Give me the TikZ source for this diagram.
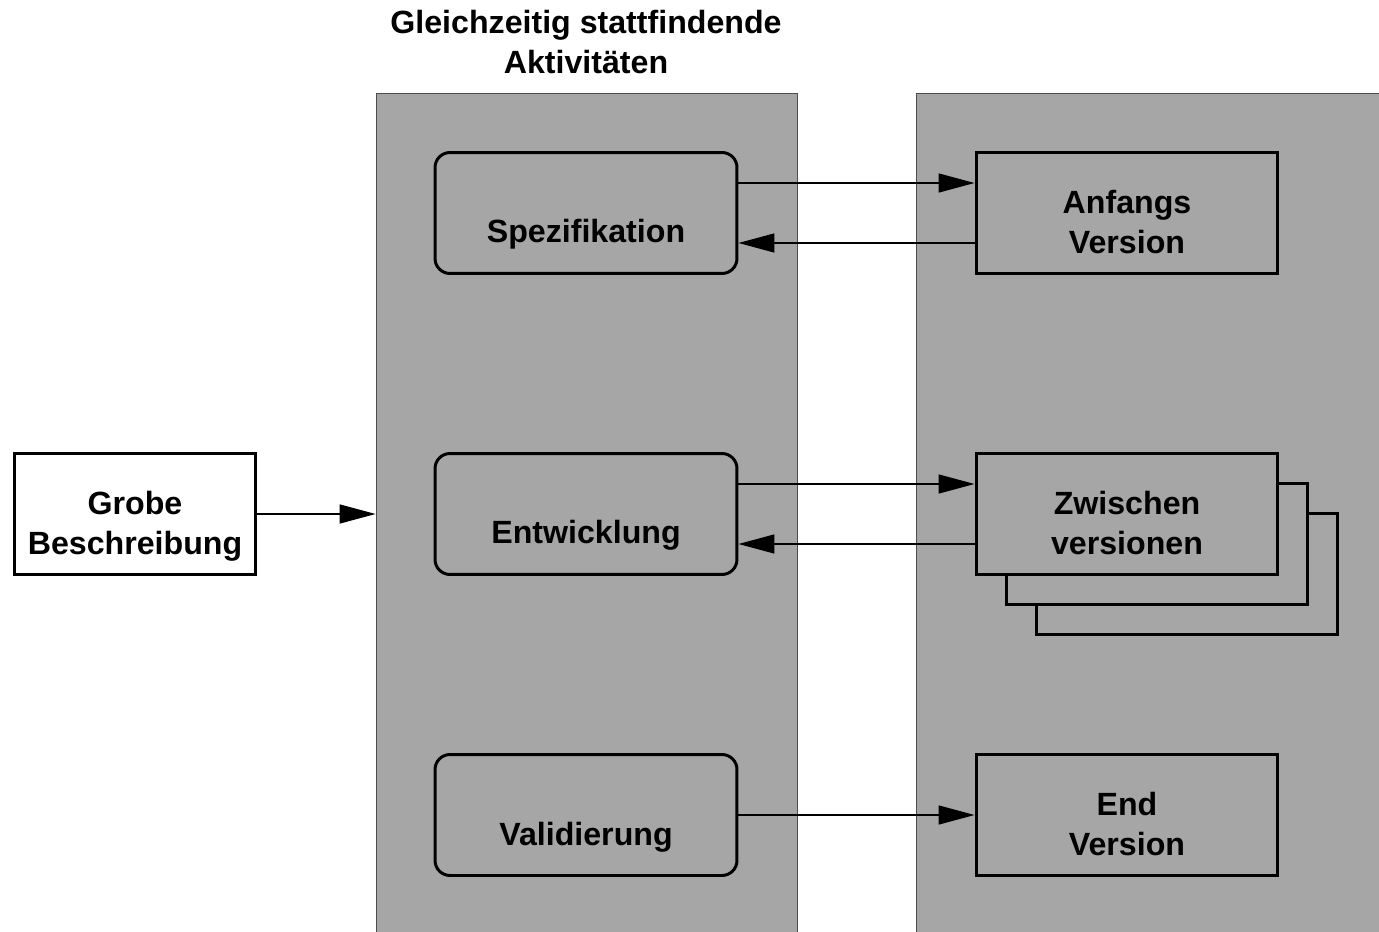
\documentclass[tikz,border=0pt]{standalone}
\usepackage{fontspec}
\setmainfont{Liberation Sans}
\usetikzlibrary{arrows.meta}
\definecolor{panelgray}{RGB}{166,166,166}
\tikzset{
  panel/.style={draw=black!70, line width=0.5pt, fill=panelgray, inner sep=0pt},
  activity/.style={draw, line width=1.7pt, rounded corners=0.3cm, fill=panelgray,
    minimum width=6.04cm, minimum height=2.42cm, text height=1.32cm, text depth=0.12cm},
  version/.style={draw, line width=1.7pt, fill=panelgray, align=center,
    minimum width=6.04cm, minimum height=2.42cm, text height=1.74cm, text depth=0.12cm},
  flow/.style={line width=0.85pt, -{Triangle[length=0.72cm, width=0.38cm]}}
}
\begin{document}
\begin{tikzpicture}[x=0.02cm, y=-0.02cm, font=\fontsize{18.3}{22.7}\selectfont\bfseries]
\useasboundingbox (0,0) rectangle (1379,932);
% the two grey columns
\node[panel, minimum width=8.42cm, minimum height=16.9cm] (lpanel) at (586.5,515.5) {};
\node[panel, minimum width=9.7cm, minimum height=16.9cm] (rpanel) at (1159,515.5) {};
\node[align=center] (title) at (586,42) {Gleichzeitig stattfindende\\Aktivitäten};
% input
\node[version, fill=white, minimum width=4.84cm] (grobe) at (135,514) {Grobe\\Beschreibung};
\draw[flow] (grobe.east) -- (grobe.east -| lpanel.west);
% activities
\node[activity] (spez) at (586,213) {Spezifikation};
\node[activity] (entw) at (586,514) {Entwicklung};
\node[activity] (vali) at (586,815) {Validierung};
% versions
\node[version] (anf) at (1127,213) {Anfangs\\Version};
\node[version] (zw3) at (1187,574) {};
\node[version] (zw2) at (1157,544) {};
\node[version] (zw) at (1127,514) {Zwischen\\versionen};
\node[version] (endv) at (1127,815) {End\\Version};
% connections
\draw[flow] ([yshift=0.6cm]spez.east) -- ([yshift=0.6cm]anf.west);
\draw[flow] ([yshift=-0.6cm]anf.west) -- ([yshift=-0.6cm]spez.east);
\draw[flow] ([yshift=0.6cm]entw.east) -- ([yshift=0.6cm]zw.west);
\draw[flow] ([yshift=-0.6cm]zw.west) -- ([yshift=-0.6cm]entw.east);
\draw[flow] (vali.east) -- (endv.west);
\end{tikzpicture}
\end{document}
